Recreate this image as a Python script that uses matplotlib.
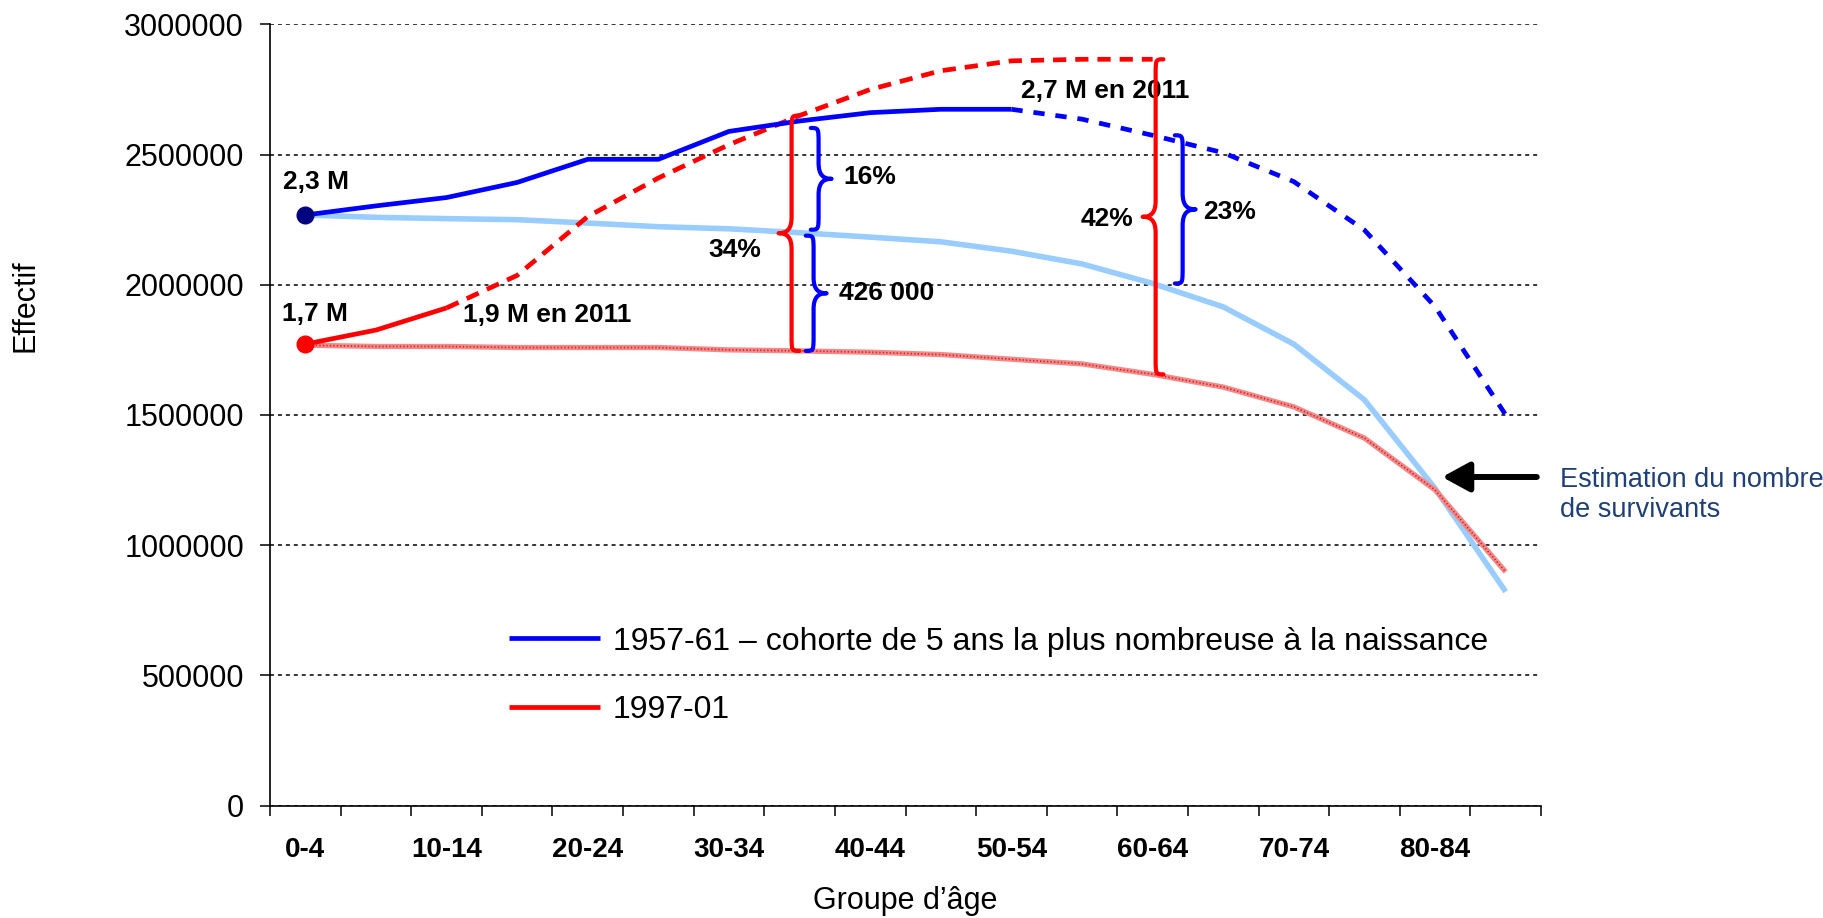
import matplotlib
matplotlib.use('Agg')
import matplotlib.pyplot as plt
from matplotlib.path import Path
from matplotlib.patches import PathPatch
from matplotlib.transforms import IdentityTransform
import numpy as np

# ---------------- data ----------------
categories = ['0-4', '5-9', '10-14', '15-19', '20-24', '25-29', '30-34', '35-39',
              '40-44', '45-49', '50-54', '55-59', '60-64', '65-69', '70-74',
              '75-79', '80-84', '85-89']
# 1957-61 cohort: observed up to 2011 (0-4 .. 50-54), projected afterwards (50-54 .. 85-89)
blue_observed = [2268000, 2303000, 2335000, 2393000, 2482000, 2482000, 2589000,
                 2629000, 2661000, 2674000, 2674000]
blue_projected = [2674000, 2636000, 2574000, 2507000, 2396000, 2210000, 1916000, 1500000]
# survivors estimation 1957-61
blue_survivors = [2268000, 2259000, 2254000, 2250000, 2237000, 2223000, 2215000, 2200000,
                  2183000, 2165000, 2129000, 2080000, 2005000, 1915000, 1772000, 1558000,
                  1218000, 821000]
# 1997-01 cohort: observed up to 2011 (0-4 .. 10-14), projected afterwards (10-14 .. 60-64)
red_observed = [1772000, 1826000, 1911000]
red_projected = [1911000, 2036000, 2262000, 2410000, 2538000, 2650000, 2750000,
                 2822000, 2860000, 2866000, 2866000]
# survivors estimation 1997-01
red_survivors = [1768000, 1763000, 1763000, 1759000, 1759000, 1759000, 1750000, 1746000,
                 1741000, 1732000, 1714000, 1696000, 1656000, 1607000, 1531000, 1411000,
                 1212000, 897000]
ytick_values = [0, 500000, 1000000, 1500000, 2000000, 2500000, 3000000]
legend_labels = ['1957-61 – cohorte de 5 ans la plus nombreuse à la naissance', '1997-01']

# ---------------- figure ----------------
plt.rcParams['font.family'] = ['Liberation Sans', 'DejaVu Sans']
W, H = 1823, 918
fig = plt.figure(figsize=(W / 100, H / 100), dpi=100)
ax = fig.add_axes([270 / W, 1 - 805.5 / H, 1271 / W, 781.1 / H])

n = len(categories)
x_all = np.arange(n)
n_bo = len(blue_observed)
n_ro = len(red_observed)
x_bo = x_all[:n_bo]
x_bp = x_all[n_bo - 1:n_bo - 1 + len(blue_projected)]
x_ro = x_all[:n_ro]
x_rp = x_all[n_ro - 1:n_ro - 1 + len(red_projected)]

BLUE = '#0000FF'
RED = '#FF0000'
LIGHTBLUE = '#99CCFF'

# survivors lines
ax.plot(x_all, blue_survivors, color=LIGHTBLUE, lw=4.0, solid_capstyle='butt', zorder=2)
ax.plot(x_all, red_survivors, color='#f28a8a', lw=3.8, solid_capstyle='butt', zorder=2)
ax.plot(x_all, red_survivors, color='#e01c1c', lw=1.2, ls=(0, (0.8, 1.3)), zorder=2.1)

# projected (dashed)
ax.plot(x_bp, blue_projected, color=BLUE, lw=3.4, ls=(0, (2.4, 2.3)), zorder=3)
ax.plot(x_rp, red_projected, color=RED, lw=3.4, ls=(0, (2.8, 1.9)), zorder=3)

# observed (solid)
hb, = ax.plot(x_bo, blue_observed, color=BLUE, lw=3.4, zorder=4, solid_capstyle='butt')
hr, = ax.plot(x_ro, red_observed, color=RED, lw=3.4, zorder=4, solid_capstyle='butt')
ax.plot(x_bo[0], blue_observed[0], 'o', color='#000080', ms=12, zorder=5)
ax.plot(x_ro[0], red_observed[0], 'o', color=RED, ms=12, zorder=5)

# axes
ax.set_xlim(-0.5, n - 0.5)
ax.set_ylim(0, 3000000)
for s in ['top', 'right']:
    ax.spines[s].set_visible(False)
for s in ['left', 'bottom']:
    ax.spines[s].set_linewidth(1.2)
    ax.spines[s].set_color('black')

ax.set_yticks(ytick_values)
ax.set_yticklabels([str(v) for v in ytick_values])
ax.tick_params(axis='y', length=7.2, width=1.1, pad=11.5, labelsize=22, direction='out')
ax.yaxis.grid(True, color='black', lw=1.1, ls=(0, (2.6, 2.6)))
ax.set_axisbelow(True)

ax.set_xticks(x_all)
ax.set_xticklabels([c if i % 2 == 0 else '' for i, c in enumerate(categories)],
                   fontweight='bold')
ax.set_xticks(np.arange(-0.5, n, 1), minor=True)
ax.tick_params(axis='x', which='major', length=0, pad=23, labelsize=20)
ax.tick_params(axis='x', which='minor', length=7.2, width=1.1, direction='out')

ax.set_ylabel('Effectif', fontsize=22, va='center')
ax.yaxis.set_label_coords(-0.192, 0.6395)
ax.set_xlabel('Groupe d’âge', fontsize=22, va='center')
ax.xaxis.set_label_coords(0.5, -0.1223)

# legend
ax.legend([hb, hr], legend_labels, loc='center left',
          bbox_to_anchor=(509 / W, 1 - 676 / H), bbox_transform=fig.transFigure,
          frameon=False, fontsize=23, handlelength=2.85, handletextpad=0.4,
          labelspacing=1.22, borderpad=0, borderaxespad=0)

# ---------------- annotations ----------------
bold = dict(fontsize=19, fontweight='bold', color='black')
ax.annotate('2,3 M', (x_bo[0], blue_observed[0]), xytext=(8, 24), textcoords='offset points',
            ha='center', va='center', **bold)
ax.annotate('1,7 M', (x_ro[0], red_observed[0]), xytext=(7, 22), textcoords='offset points',
            ha='center', va='center', **bold)
ax.annotate('1,9 M en 2011', (x_ro[-1], red_observed[-1]), xytext=(12, -5),
            textcoords='offset points', ha='left', va='center', **bold)
ax.annotate('2,7 M en 2011', (x_bo[-1], blue_observed[-1]), xytext=(7, 13),
            textcoords='offset points', ha='left', va='center', **bold)


def brace(xi, y_top, y_bot, dx, side, color, gap_top=0, gap_bot=0, w=13, r=16, lw=3.0):
    X, Yt = ax.transData.transform((xi, y_top))
    _, Yb = ax.transData.transform((xi, y_bot))
    x0 = X + dx
    Yt -= gap_top
    Yb += gap_bot
    ym = (Yt + Yb) / 2
    s = side
    e = -s * w * 0.6
    verts = [(x0 + e, Yt), (x0, Yt), (x0, Yt), (x0, Yt - r),
             (x0, ym + r),
             (x0, ym + r * 0.25), (x0 + s * w * 0.35, ym), (x0 + s * w, ym),
             (x0 + s * w * 0.35, ym), (x0, ym - r * 0.25), (x0, ym - r),
             (x0, Yb + r),
             (x0, Yb), (x0, Yb), (x0 + e, Yb)]
    codes = [Path.MOVETO, Path.CURVE4, Path.CURVE4, Path.CURVE4,
             Path.LINETO,
             Path.CURVE4, Path.CURVE4, Path.CURVE4,
             Path.CURVE4, Path.CURVE4, Path.CURVE4,
             Path.LINETO,
             Path.CURVE4, Path.CURVE4, Path.CURVE4]
    fig.add_artist(PathPatch(Path(verts, codes), transform=IdentityTransform(),
                             fill=False, edgecolor=color, lw=lw, capstyle='round',
                             joinstyle='round', zorder=6))


i1 = 7   # 35-39
i2 = 12  # 60-64
brace(i1, red_projected[i1 - (n_ro - 1)], red_survivors[i1], -8, -1, RED)
brace(i1, blue_observed[i1], blue_survivors[i1], 19, 1, BLUE, gap_top=7, gap_bot=3)
brace(i1, blue_survivors[i1], red_survivors[i1], 14, 1, BLUE, gap_top=3)
brace(i2, red_projected[i2 - (n_ro - 1)], red_survivors[i2], 3, -1, RED)
brace(i2, blue_projected[i2 - (n_bo - 1)], blue_survivors[i2], 30, 1, BLUE)

ax.text(6.454, 2133500, '34%', ha='right', va='center', **bold)
ax.text(7.615, 2415000, '16%', ha='left', va='center', **bold)
ax.text(7.558, 1968000, '426 000', ha='left', va='center', **bold)
ax.text(11.73, 2254000, '42%', ha='right', va='center', **bold)
ax.text(12.72, 2281000, '23%', ha='left', va='center', **bold)

# arrow + note
ax.annotate('', xy=(16.1, 1261700), xytext=(17.44, 1261700),
            arrowprops=dict(arrowstyle='-|>,head_length=0.55,head_width=0.3',
                            mutation_scale=30, lw=4.3, color='black',
                            shrinkA=0, shrinkB=0),
            annotation_clip=False)
ax.text(17.77, 1192500, 'Estimation du nombre\nde survivants', ha='left', va='center',
        fontsize=19.5, color='#1F3F78', clip_on=False)

fig.savefig('out.png', dpi=100)
